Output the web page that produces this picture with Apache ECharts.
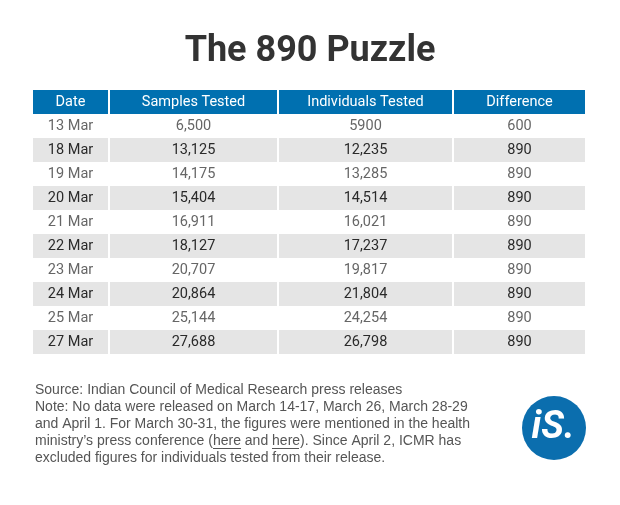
<!DOCTYPE html>
<html><head><meta charset="utf-8">
<script src="https://cdn.jsdelivr.net/npm/echarts@6/dist/echarts.min.js"></script>
<style>html,body{margin:0;padding:0;background:#fff}#c{width:620px;height:505px}</style>
</head><body><div id="c"></div>
<script>
const headers = ['Date', 'Samples Tested', 'Individuals Tested', 'Difference'];
const dates = ['13 Mar','18 Mar','19 Mar','20 Mar','21 Mar','22 Mar','23 Mar','24 Mar','25 Mar','27 Mar'];
const samplesTested = ['6,500','13,125','14,175','15,404','16,911','18,127','20,707','20,864','25,144','27,688'];
const individualsTested = ['5900','12,235','13,285','14,514','16,021','17,237','19,817','21,804','24,254','26,798'];
const difference = ['600','890','890','890','890','890','890','890','890','890'];

const colEdges = [0, 76, 245, 420, 552];
const rowKeys = ['header'].concat(dates);
const cells = [];
rowKeys.forEach((r, ri) => {
  for (let c = 0; c < 4; c++) {
    let txt;
    if (ri === 0) txt = headers[c];
    else txt = [dates, samplesTested, individualsTested, difference][c][ri - 1];
    cells.push([c, ri, txt]);
  }
});

const chart = echarts.init(document.getElementById('c'), null, {renderer: 'canvas'});
chart.setOption({
  animation: false,
  backgroundColor: '#fff',
  title: {
    text: 'The 890 Puzzle', left: 'center', top: 29,
    textStyle: {fontFamily: 'Roboto', fontWeight: 'bold', fontSize: 36, color: '#333'}
  },
  grid: {left: 33, right: 35, top: 90, bottom: 151},
  xAxis: {type: 'value', min: 0, max: 552, show: false},
  yAxis: {type: 'category', data: rowKeys, inverse: true, show: false},
  series: [{
    type: 'custom',
    data: cells,
    renderItem: function (params, api) {
      const c = api.value(0), ri = api.value(1);
      const txt = cells[params.dataIndex][2];
      const x0 = api.coord([colEdges[c], ri])[0] + (c > 0 ? 1 : 0);
      const x1 = api.coord([colEdges[c + 1], ri])[0] - (c < 3 ? 1 : 0);
      const yc = api.coord([0, ri])[1];
      const h = api.size([0, 1])[1];
      const y0 = yc - h / 2;
      let fill, tc;
      if (ri === 0) { fill = '#0070b0'; tc = '#fff'; }
      else if (ri % 2 === 0) { fill = '#e5e5e5'; tc = '#2a2a2a'; }
      else { fill = '#ffffff'; tc = '#666'; }
      return {
        type: 'group',
        children: [
          {type: 'rect', shape: {x: x0, y: y0, width: x1 - x0, height: h}, style: {fill: fill}},
          {type: 'text', style: {text: txt, x: (x0 + x1) / 2, y: yc + 0.5, align: 'center', verticalAlign: 'middle',
            fill: tc, fontFamily: 'Roboto', fontSize: 14.5}}
        ]
      };
    }
  }],
  graphic: [
    {type: 'text', left: 35, top: 382, style: {
      text: 'Source: Indian Council of Medical Research press releases\nNote: No data were released on March 14-17, March 26, March 28-29\nand April 1. For March 30-31, the figures were mentioned in the health\nministry\u2019s press conference (here and here). Since April 2, ICMR has\nexcluded figures for individuals tested from their release.',
      fontFamily: 'Liberation Sans', fontSize: 14, lineHeight: 17, fill: '#555'}},
    {type: 'line', shape: {x1: 213, y1: 448.5, x2: 241, y2: 448.5}, style: {stroke: '#555', lineWidth: 1}},
    {type: 'line', shape: {x1: 272, y1: 448.5, x2: 299, y2: 448.5}, style: {stroke: '#555', lineWidth: 1}},
    {type: 'circle', shape: {cx: 554, cy: 428, r: 32}, style: {fill: '#0b6eae'}},
    {type: 'text', x: 553, y: 428, style: {text: 'iS.', align: 'center', verticalAlign: 'middle',
      fontFamily: 'Roboto', fontWeight: 'bold', fontStyle: 'italic', fontSize: 38, fill: '#fff'}}
  ]
});
</script></body></html>
